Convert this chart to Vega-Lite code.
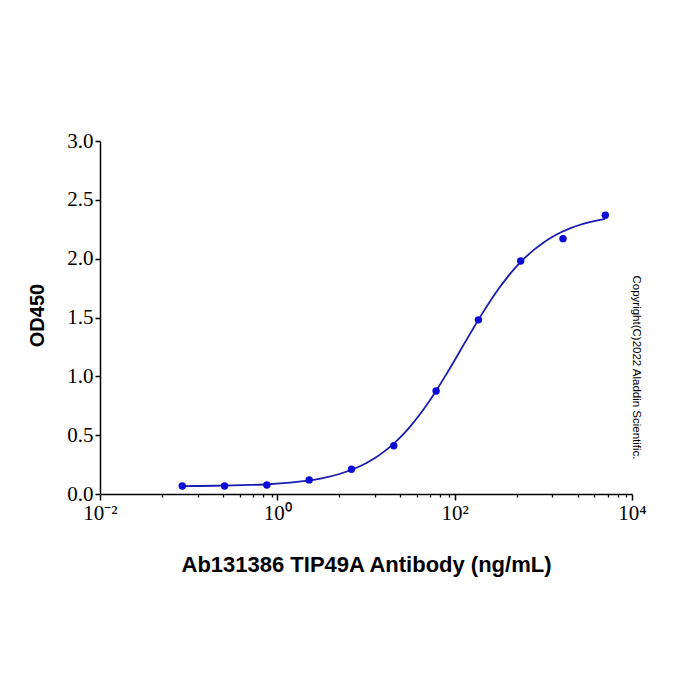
{
  "$schema": "https://vega.github.io/schema/vega-lite/v6.json",
  "width": 532,
  "height": 353,
  "autosize": {"type": "none"},
  "padding": {"left": 100, "top": 141, "right": 68, "bottom": 206},
  "background": "white",
  "config": {"view": {"stroke": null}},
  "datasets": {
    "curve": [
      {"conc": 0.0832, "od": 0.067},
      {"conc": 0.1259, "od": 0.068},
      {"conc": 0.1995, "od": 0.070},
      {"conc": 0.3162, "od": 0.073},
      {"conc": 0.5012, "od": 0.077},
      {"conc": 0.7943, "od": 0.083},
      {"conc": 1.259, "od": 0.094},
      {"conc": 1.995, "od": 0.109},
      {"conc": 3.162, "od": 0.133},
      {"conc": 5.012, "od": 0.170},
      {"conc": 7.943, "od": 0.225},
      {"conc": 10, "od": 0.261},
      {"conc": 12.59, "od": 0.305},
      {"conc": 15.85, "od": 0.358},
      {"conc": 19.95, "od": 0.419},
      {"conc": 25.12, "od": 0.492},
      {"conc": 31.62, "od": 0.575},
      {"conc": 39.81, "od": 0.669},
      {"conc": 50.12, "od": 0.773},
      {"conc": 63.1, "od": 0.888},
      {"conc": 79.43, "od": 1.010},
      {"conc": 100, "od": 1.137},
      {"conc": 125.9, "od": 1.267},
      {"conc": 158.5, "od": 1.395},
      {"conc": 199.5, "od": 1.520},
      {"conc": 251.2, "od": 1.638},
      {"conc": 316.2, "od": 1.748},
      {"conc": 398.1, "od": 1.847},
      {"conc": 501.2, "od": 1.936},
      {"conc": 631, "od": 2.013},
      {"conc": 794.3, "od": 2.079},
      {"conc": 1000, "od": 2.136},
      {"conc": 1259, "od": 2.184},
      {"conc": 1585, "od": 2.224},
      {"conc": 1995, "od": 2.257},
      {"conc": 2512, "od": 2.284},
      {"conc": 3162, "od": 2.306},
      {"conc": 3981, "od": 2.324},
      {"conc": 5012, "od": 2.339}
    ],
    "points": [
      {"conc": 0.0847, "od": 0.068},
      {"conc": 0.254, "od": 0.068},
      {"conc": 0.762, "od": 0.077},
      {"conc": 2.286, "od": 0.12},
      {"conc": 6.859, "od": 0.21},
      {"conc": 20.58, "od": 0.41},
      {"conc": 61.73, "od": 0.875},
      {"conc": 185.2, "od": 1.48},
      {"conc": 555.6, "od": 1.98},
      {"conc": 1667, "od": 2.17},
      {"conc": 5000, "od": 2.37}
    ]
  },
  "layer": [
    {
      "data": {"name": "curve"},
      "mark": {"type": "line", "interpolate": "monotone", "color": "#1c1cb0", "strokeWidth": 1.8},
      "encoding": {
        "x": {
          "field": "conc", "type": "quantitative",
          "scale": {"type": "log", "domain": [0.01, 10000]},
          "axis": {
            "orient": "bottom",
            "values": [0.05, 0.126, 0.243, 0.376, 0.533, 0.69, 0.86, 5, 12.6, 24.3, 37.6, 53.3, 69, 86, 500, 1260, 2430, 3760, 5330, 6900, 8600],
            "labels": false, "domain": false, "grid": false, "title": null,
            "tickSize": 3, "tickColor": "black", "tickWidth": 1.3
          }
        },
        "y": {
          "field": "od", "type": "quantitative",
          "scale": {"domain": [0, 3]},
          "axis": {
            "orient": "right", "labels": false, "ticks": false, "domain": false, "grid": false,
            "title": "Copyright(C)2022 Aladdin Scientific.",
            "titleFont": "Liberation Sans", "titleFontSize": 11.5, "titleFontWeight": "normal",
            "titleColor": "black", "titleAngle": 90, "titleAlign": "center", "titleBaseline": "middle",
            "titleX": 3, "titleY": 226
          }
        }
      }
    },
    {
      "data": {"name": "points"},
      "mark": {"type": "circle", "size": 55, "opacity": 1, "color": "#0b0bd8"},
      "encoding": {
        "x": {
          "field": "conc", "type": "quantitative",
          "scale": {"type": "log", "domain": [0.01, 10000]},
          "axis": {
            "orient": "bottom",
            "values": [0.01, 1, 100, 10000],
            "labelExpr": "datum.value < 0.1 ? '10⁻²' : datum.value < 10 ? '10⁰' : datum.value < 1000 ? '10²' : '10⁴'",
            "labelFont": "Liberation Serif", "labelFontSize": 21, "labelColor": "black",
            "labelFlush": false, "labelOverlap": false, "labelPadding": 2,
            "tickSize": 6, "tickColor": "black", "tickWidth": 1.5,
            "domainColor": "black", "domainWidth": 1.5, "grid": false,
            "title": "Ab131386 TIP49A Antibody (ng/mL)",
            "titleFont": "Liberation Sans", "titleFontSize": 22, "titleFontWeight": "bold", "titleColor": "black",
            "titleX": 266, "titleY": 77, "titleBaseline": "alphabetic", "titleAlign": "center"
          }
        },
        "y": {
          "field": "od", "type": "quantitative",
          "scale": {"domain": [0, 3]},
          "axis": {
            "orient": "left",
            "values": [0, 0.5, 1, 1.5, 2, 2.5, 3],
            "format": ".1f",
            "labelFont": "Liberation Serif", "labelFontSize": 21, "labelColor": "black", "labelPadding": 2,
            "labelFlush": false, "labelOverlap": false,
            "tickSize": 5, "tickColor": "black", "tickWidth": 1.5,
            "domainColor": "black", "domainWidth": 1.5, "grid": false,
            "title": "OD450",
            "titleFont": "Liberation Sans", "titleFontSize": 20, "titleFontWeight": "bold", "titleColor": "black",
            "titleAngle": -90, "titleAlign": "center", "titleBaseline": "middle",
            "titleX": -63, "titleY": 174
          }
        }
      }
    }
  ],
  "resolve": {"axis": {"x": "independent", "y": "independent"}}
}
